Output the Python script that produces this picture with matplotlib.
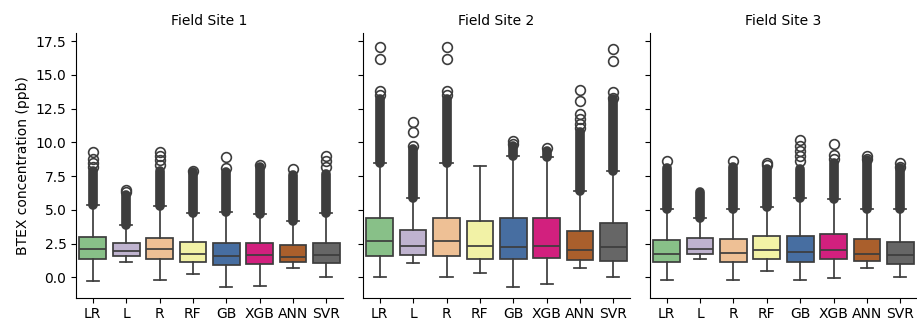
import matplotlib
matplotlib.use("Agg")
import matplotlib.pyplot as plt
import numpy as np
import seaborn as sns

models = ["LR", "L", "R", "RF", "GB", "XGB", "ANN", "SVR"]
sites = ["Field Site 1", "Field Site 2", "Field Site 3"]

# box statistics per site (ppb), one value per model
q1_1 = [1.38, 1.60, 1.38, 1.14, 0.89, 1.02, 1.12, 1.04]
med_1 = [2.10, 1.95, 2.13, 1.77, 1.60, 1.70, 1.55, 1.70]
q3_1 = [3.00, 2.54, 2.94, 2.62, 2.54, 2.54, 2.40, 2.54]
lo_1 = [-0.25, 1.15, -0.17, 0.28, -0.72, -0.62, 0.68, 0.00]
hi_1 = [5.40, 3.90, 5.30, 4.75, 4.85, 4.70, 4.20, 4.80]
dense_top_1 = [7.9, 6.1, 7.9, 7.8, 7.8, 8.2, 7.6, 7.7]
out_1 = [[8.2, 8.5, 8.8, 9.3], [6.3, 6.5], [8.3, 8.7, 9.0, 9.3], [7.9],
         [8.1, 8.9], [8.3], [8.0], [8.2, 8.6, 9.0]]

q1_2 = [1.62, 1.67, 1.62, 1.38, 1.38, 1.45, 1.33, 1.23]
med_2 = [2.73, 2.34, 2.73, 2.31, 2.24, 2.34, 2.07, 2.24]
q3_2 = [4.40, 3.49, 4.40, 4.18, 4.43, 4.38, 3.42, 4.06]
lo_2 = [0.00, 1.08, 0.07, 0.30, -0.69, -0.47, 0.71, 0.07]
hi_2 = [8.50, 5.90, 8.50, 8.27, 9.00, 8.90, 6.40, 7.90]
dense_top_2 = [13.2, 9.5, 13.2, np.nan, 9.7, 9.4, 10.8, 13.2]
out_2 = [[13.5, 13.8, 16.2, 17.1], [9.7, 10.8, 11.5], [13.5, 13.8, 16.2, 17.1], [],
         [9.9, 10.1], [9.6], [11.1, 11.4, 11.7, 12.1, 13.1, 13.9],
         [13.3, 13.7, 16.0, 16.9]]

q1_3 = [1.16, 1.71, 1.14, 1.39, 1.14, 1.39, 1.21, 1.01]
med_3 = [1.73, 2.13, 1.83, 2.05, 1.91, 2.05, 1.73, 1.66]
q3_3 = [2.75, 2.90, 2.82, 3.04, 3.04, 3.19, 2.82, 2.65]
lo_3 = [-0.15, 1.34, -0.15, 0.47, -0.15, -0.07, 0.72, 0.00]
hi_3 = [5.10, 4.40, 5.10, 5.20, 5.85, 5.80, 5.10, 5.10]
dense_top_3 = [8.1, 6.3, 8.2, 8.0, 8.0, 8.5, 8.7, 8.1]
out_3 = [[8.6], [], [8.6], [8.3, 8.5], [8.6, 9.0, 9.4, 9.7, 10.2],
         [8.8, 9.1, 9.9], [8.8, 9.0], [8.2, 8.5]]

site_data = [
    (q1_1, med_1, q3_1, lo_1, hi_1, dense_top_1, out_1),
    (q1_2, med_2, q3_2, lo_2, hi_2, dense_top_2, out_2),
    (q1_3, med_3, q3_3, lo_3, hi_3, dense_top_3, out_3),
]

colors = sns.color_palette("Accent", 8, desat=0.75)
line_c = "#3d3d3d"
lw = 1.25

fig, axes = plt.subplots(1, 3, figsize=(9.17, 3.24), dpi=100, sharey=True)
fig.subplots_adjust(left=0.083, right=1.0, top=0.898, bottom=0.081, wspace=0.075)

for ax, title, (q1, med, q3, lo, hi, dtop, outs) in zip(axes, sites, site_data):
    pos = np.arange(len(models))
    stats = [dict(q1=a, med=m, q3=b, whislo=l, whishi=h, fliers=[])
             for a, m, b, l, h in zip(q1, med, q3, lo, hi)]
    bp = ax.bxp(stats, positions=pos, widths=0.8, capwidths=0.36,
                patch_artist=True, showfliers=False,
                boxprops=dict(edgecolor=line_c, linewidth=lw),
                medianprops=dict(color=line_c, linewidth=lw),
                whiskerprops=dict(color=line_c, linewidth=lw),
                capprops=dict(color=line_c, linewidth=lw))
    for patch, c in zip(bp["boxes"], colors):
        patch.set_facecolor(c)

    # the many outliers above each whisker overlap into a solid column
    for x, h, t in zip(pos, hi, dtop):
        if np.isfinite(t):
            ax.vlines(x, h, t, color=line_c, linewidth=7,
                      capstyle="round", zorder=1.5)
    for x, vals in zip(pos, outs):
        ax.plot([x] * len(vals), vals, "o", ms=7, mfc="none",
                mec=line_c, mew=1.2, zorder=2)

    ax.set_title(title, fontsize=10)
    ax.set_xticks(pos)
    ax.set_xticklabels(models)
    ax.set_xlim(-0.5, 7.5)
    ax.spines["top"].set_visible(False)
    ax.spines["right"].set_visible(False)

axes[0].set_ylim(-1.5, 18.1)
axes[0].set_yticks(np.arange(0, 17.6, 2.5))
axes[0].set_ylabel("BTEX concentration (ppb)")

plt.savefig("out.png", dpi=100)
